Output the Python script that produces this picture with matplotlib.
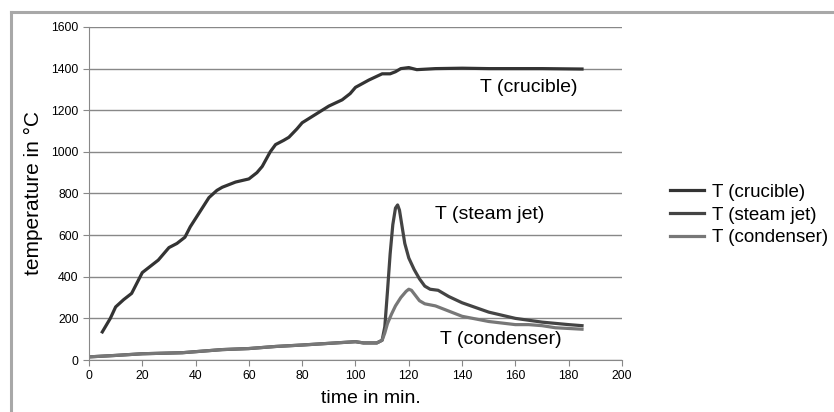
import matplotlib.pyplot as plt
from matplotlib.lines import Line2D

plt.rcParams['font.family'] = ['Liberation Sans', 'DejaVu Sans']

# data
t_crucible = [5, 8, 10, 13, 16, 18, 20, 23, 26, 28, 30, 33, 36, 38, 40, 43, 45, 48,
              50, 55, 60, 63, 65, 68, 70, 73, 75, 78, 80, 85, 90, 95, 98, 100, 105,
              110, 113, 115, 117, 120, 123, 130, 140, 150, 160, 170, 185]
crucible = [135, 200, 255, 290, 320, 370, 420, 450, 480, 510, 540, 560, 590, 640,
            680, 740, 780, 815, 830, 855, 870, 900, 930, 1000, 1035, 1055, 1070, 1110,
            1140, 1180, 1220, 1250, 1280, 1310, 1345, 1375, 1375, 1385, 1400, 1405,
            1395, 1400, 1402, 1400, 1400, 1400, 1398]

t_steam = [0, 10, 20, 35, 50, 60, 70, 80, 90, 100, 103, 108, 110, 111, 112, 113,
           114, 115, 115.8, 116.5, 117.5, 118.5, 120, 122, 124, 126, 128, 131, 135,
           140, 150, 160, 170, 180, 185]
steam = [15, 22, 30, 35, 50, 55, 65, 72, 80, 88, 82, 82, 95, 160, 330, 510,
         650, 730, 745, 720, 640, 560, 490, 435, 390, 355, 340, 335, 305,
         275, 230, 200, 182, 170, 165]

t_cond = [0, 10, 20, 35, 50, 60, 70, 80, 90, 100, 103, 108, 110, 111, 112, 113.5, 115,
          117, 119, 120, 121, 122.5, 124, 126, 130, 135, 140, 150, 160, 165, 170, 175,
          185]
cond = [15, 22, 30, 35, 50, 55, 65, 72, 80, 88, 82, 82, 95, 130, 175, 220, 260,
        300, 330, 340, 335, 310, 285, 270, 260, 235, 210, 185, 170, 170, 165, 155,
        148]

labels = ['T (crucible)', 'T (steam jet)', 'T (condenser)']
colors = ['#333333', '#444444', '#777777']

fig = plt.figure(figsize=(8.34, 4.12), dpi=100)
ax = fig.add_axes([0.1067, 0.1262, 0.6391, 0.8083])

for t, v, c, lab in [(t_crucible, crucible, colors[0], labels[0]),
                     (t_steam, steam, colors[1], labels[1]),
                     (t_cond, cond, colors[2], labels[2])]:
    ax.plot(t, v, color=c, lw=2.3, label=lab, solid_joinstyle='round')

ax.set_xlim(0, 200)
ax.set_ylim(0, 1600)
ax.set_xticks(range(0, 201, 20))
ax.set_yticks(range(0, 1601, 200))
ax.grid(axis='y', color='#888888', lw=1)
ax.set_axisbelow(True)
for s in ['top', 'right']:
    ax.spines[s].set_visible(False)
for s in ['left', 'bottom']:
    ax.spines[s].set_color('#888888')
ax.tick_params(labelsize=8.8, color='#888888', length=4)

ax.set_xlabel('time in min.', fontsize=14, va='center')
ax.xaxis.set_label_coords(0.529, -0.117)
ax.set_ylabel('temperature in °C', fontsize=15, va='center')
ax.yaxis.set_label_coords(-0.105, 0.5)

ax.text(146.7, 1307, 'T (crucible)', fontsize=14, va='center')
ax.text(130, 700, 'T (steam jet)', fontsize=14, va='center')
ax.text(131.7, 100, 'T (condenser)', fontsize=14, va='center')

fig.legend(loc='center left', bbox_to_anchor=(0.783, 0.478), frameon=False,
           fontsize=13.5, handlelength=1.8, labelspacing=0.3, handletextpad=0.45)

# grey frame around the chart
fig.add_artist(Line2D([11 / 834, 1], [1 - 12 / 412, 1 - 12 / 412],
                      color='#a8a8a8', lw=2.2, transform=fig.transFigure))
fig.add_artist(Line2D([11 / 834, 11 / 834], [0, 1 - 12 / 412],
                      color='#a8a8a8', lw=2.2, transform=fig.transFigure))

fig.savefig('out.png', dpi=100)
